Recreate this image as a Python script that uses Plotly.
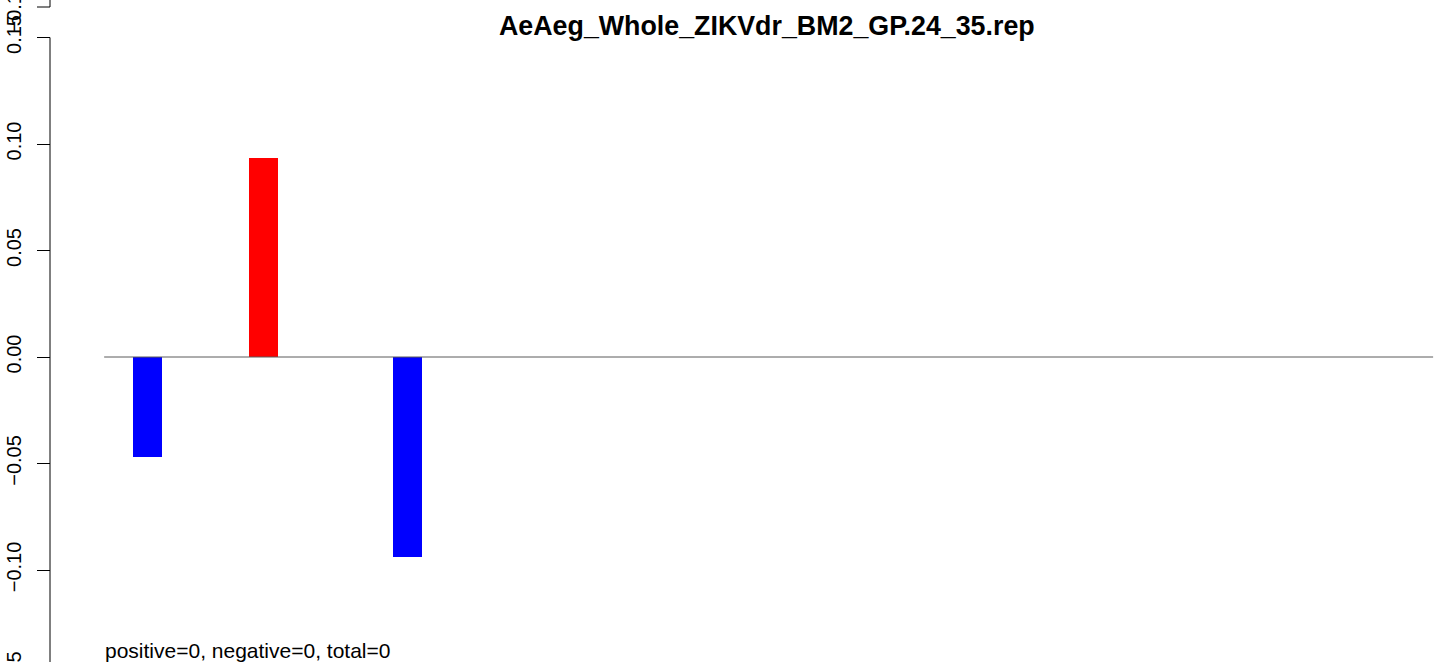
import plotly.graph_objects as go

# ---- data ----
bar_index = [1, 5, 10]
bar_values = [-0.047, 0.0935, -0.094]
n_slots = 46
y_ticks = [0.15, 0.10, 0.05, 0.00, -0.05, -0.10]
y_tick_text = ["0.15", "0.10", "0.05", "0.00", "\u22120.05", "\u22120.10"]
title_text = "AeAeg_Whole_ZIKVdr_BM2_GP.24_35.rep"
note_text = "positive=0, negative=0, total=0"

W, H = 1439, 662
FONT = "Liberation Sans, Arial, Helvetica, sans-serif"
TICK_SIZE = 20

colors = ["#FF0000" if v > 0 else "#0000FF" for v in bar_values]

fig = go.Figure()
fig.add_trace(go.Bar(x=bar_index, y=bar_values, width=1.0,
                     marker=dict(color=colors, line=dict(width=0)),
                     showlegend=False, hoverinfo="x+y"))

def px_x(p):
    return p / W

def px_y(p):
    return 1 - p / H

axis_x = px_x(50)
shapes = [
    # baseline at zero across all slots
    dict(type="line", xref="x", yref="y", x0=-0.5, x1=n_slots - 0.5, y0=0, y1=0,
         line=dict(color="#5a5a5a", width=1), layer="above"),
    # y axis line from first to last tick
    dict(type="line", xref="paper", yref="y", x0=axis_x, x1=axis_x, y0=0.15, y1=-0.15,
         line=dict(color="black", width=1)),
    # remnants of the panel above
    dict(type="line", xref="paper", yref="paper", x0=axis_x, x1=axis_x, y0=1.01, y1=px_y(7),
         line=dict(color="black", width=1)),
    dict(type="line", xref="paper", yref="paper", x0=px_x(37), x1=axis_x, y0=px_y(7), y1=px_y(7),
         line=dict(color="black", width=1)),
]

annotations = [
    dict(text="<b>" + title_text + "</b>", xref="paper", yref="paper",
         x=px_x(767), y=px_y(26), xanchor="center", yanchor="middle",
         showarrow=False, font=dict(family=FONT, size=26.8, color="black")),
    dict(text=note_text, xref="paper", yref="paper",
         x=px_x(103), y=px_y(650), xanchor="left", yanchor="middle",
         showarrow=False, font=dict(family=FONT, size=21, color="black")),
    # partial tick labels cut by the image edges
    dict(text="\u22120.15", xref="paper", yref="paper", x=px_x(13.5), y=px_y(7),
         textangle=-90, xanchor="center", yanchor="middle", showarrow=False,
         font=dict(family=FONT, size=TICK_SIZE, color="black")),
    dict(text="\u22120.15", xref="paper", yref="paper", x=px_x(13.5), y=px_y(676.5),
         textangle=-90, xanchor="center", yanchor="middle", showarrow=False,
         font=dict(family=FONT, size=TICK_SIZE, color="black")),
]

y_top = 357 / 2130
y_bot = (357 - H) / 2130
x_lo = -118.61 / 28.89
x_hi = x_lo + W / 28.89

fig.update_layout(
    width=W, height=H,
    margin=dict(l=0, r=0, t=0, b=0, pad=0, autoexpand=False),
    paper_bgcolor="white", plot_bgcolor="white",
    xaxis=dict(range=[x_lo, x_hi], visible=False, showgrid=False, zeroline=False,
               automargin=False),
    yaxis=dict(range=[y_bot, y_top], anchor="free", position=axis_x,
               automargin=False,
               showline=False, showgrid=False, zeroline=False,
               tickmode="array", tickvals=y_ticks, ticktext=y_tick_text,
               ticks="outside", ticklen=13, tickwidth=1, tickcolor="black",
               tickangle=-90, ticklabelstandoff=8,
               tickfont=dict(family=FONT, size=TICK_SIZE, color="black")),
    shapes=shapes,
    annotations=annotations,
    bargap=0,
)

fig.write_html(
    "out.html",
    config={"displayModeBar": False},
    post_script="document.body.style.margin='0px';document.body.style.padding='0px';"
                "document.body.style.overflow='hidden';",
)
